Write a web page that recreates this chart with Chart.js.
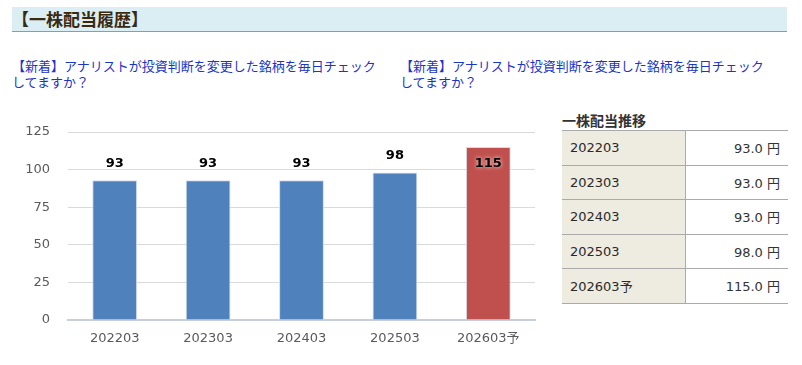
<!DOCTYPE html>
<html lang="ja">
<head>
<meta charset="utf-8">
<script src="https://cdn.jsdelivr.net/npm/chart.js@4/dist/chart.umd.min.js"></script>
<style>
body { margin: 0; background: #fff; font-family: "Noto Sans CJK JP", sans-serif; width: 802px; height: 365px; position: relative; overflow: hidden; }
.head { position: absolute; left: 12px; top: 7px; width: 775px; height: 24px; background: #daeef3; border-bottom: 1px solid #999; font-weight: bold; font-size: 17px; line-height: 24px; color: #3a2a10; }
.link { position: absolute; top: 58px; width: 372px; font-size: 13px; line-height: 16px; color: #1a35c8; }
#wrap { position: absolute; left: 0; top: 100px; width: 550px; height: 255px; }
.ttl { position: absolute; left: 562px; top: 110px; font-size: 14px; font-weight: bold; color: #333; }
table { position: absolute; left: 562px; top: 130px; width: 226px; border-collapse: collapse; font-size: 13px; color: #333; font-family: "DejaVu Sans", "Noto Sans CJK JP", sans-serif; }
td { border-top: 1px solid #aaa; border-bottom: 1px solid #aaa; height: 33.5px; padding: 0 8px; }
td.k { background: #eeebe0; border-right: 1px solid #aaa; width: 107px; color: #2a2a2a; }
td.v { text-align: right; }
</style>
</head>
<body>
<div class="head">【一株配当履歴】</div>
<div class="link" style="left:12px">【新着】アナリストが投資判断を変更した銘柄を毎日チェックしてますか？</div>
<div class="link" style="left:400px">【新着】アナリストが投資判断を変更した銘柄を毎日チェックしてますか？</div>
<div id="wrap"><canvas id="divChart"></canvas></div>
<div class="ttl">一株配当推移</div>
<table id="tbl"></table>
<script>
// 一株配当
const periods = ['202203', '202303', '202403', '202503', '202603予'];
const dividends = [93, 93, 93, 98, 115];
const tableValues = ['93.0 円', '93.0 円', '93.0 円', '98.0 円', '115.0 円'];
const yTicks = [0, 25, 50, 75, 100, 125];

const tbl = document.getElementById('tbl');
periods.forEach((p, i) => {
    const tr = document.createElement('tr');
    tr.innerHTML = '<td class="k">' + p + '</td><td class="v">' + tableValues[i] + '</td>';
    tbl.appendChild(tr);
});

// bar value labels
const valueLabels = {
    id: 'valueLabels',
    afterDatasetsDraw(chart) {
        const ctx = chart.ctx;
        const meta = chart.getDatasetMeta(0);
        ctx.save();
        ctx.font = 'bold 13px "DejaVu Sans"';
        ctx.textAlign = 'center';
        ctx.textBaseline = 'middle';
        meta.data.forEach((bar, i) => {
            let y = bar.y - 17;
            if (y < chart.chartArea.top + 5) {
                y = bar.y + 17;
                ctx.shadowColor = 'rgba(255,255,255,0.9)';
                ctx.shadowBlur = 4;
            } else {
                ctx.shadowBlur = 0;
            }
            ctx.fillStyle = '#000';
            ctx.fillText(dividends[i], bar.x, y);
        });
        ctx.restore();
    }
};

const ctx = document.getElementById('divChart').getContext('2d');
new Chart(ctx, {
    type: 'bar',
    data: {
        labels: periods,
        datasets: [{
            data: dividends,
            backgroundColor: dividends.map((v, i) => i === dividends.length - 1 ? '#c0504d' : '#4f81bd'),
            borderColor: '#d4dcea',
            borderWidth: 1,
            barPercentage: 0.48,
            categoryPercentage: 1
        }]
    },
    options: {
        responsive: true,
        maintainAspectRatio: false,
        animation: false,
        layout: { padding: { top: 32, right: 15, left: 0, bottom: 0 } },
        plugins: {
            legend: { display: false },
            tooltip: { enabled: false }
        },
        scales: {
            y: {
                min: 0,
                max: 125,
                afterBuildTicks: (s) => { s.ticks = yTicks.map(v => ({ value: v })); },
                afterFit: (s) => { s.width = 68; },
                ticks: {
                    padding: 18,
                    color: '#5a5a5a',
                    font: { size: 13, family: '"DejaVu Sans"' }
                },
                grid: { color: '#dadada', tickLength: 0, lineWidth: 1 },
                border: { display: false }
            },
            x: {
                afterFit: (s) => { s.height = 35; },
                ticks: {
                    padding: 11,
                    color: '#5a5a5a',
                    font: { size: 13, family: '"DejaVu Sans", "Noto Sans CJK JP"' }
                },
                grid: { display: false, tickLength: 0 },
                border: { color: '#c8cfdb', width: 2 }
            }
        }
    },
    plugins: [valueLabels]
});
</script>
</body>
</html>
